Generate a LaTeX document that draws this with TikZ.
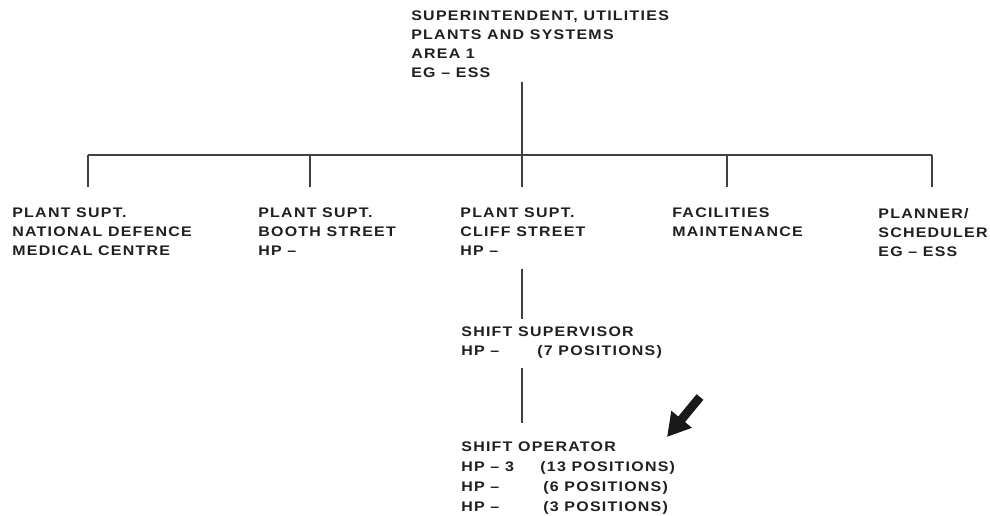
\documentclass[tikz,border=0pt]{standalone}
\usepackage{fontspec}
\setmainfont{Liberation Sans}[FakeStretch=1.15,LetterSpace=9]
\usetikzlibrary{positioning,arrows.meta}

\newcommand{\hpcol}[2][1.52cm]{\makebox[#1][l]{#2}}

\begin{document}
\begin{tikzpicture}[x=0.02cm,y=-0.02cm,
  lbl/.style={anchor=north west,align=left,inner sep=0pt,text=black!88,
    font=\fontsize{7.9}{10.8}\selectfont\bfseries,
    execute at begin node={\rule{0pt}{8pt}}},
  link/.style={line width=1pt,draw=black!75}]
\useasboundingbox (0,0) rectangle (990,516);

\def\xmid{522};
\def\ybar{155};
\def\ytxt{207.9};

% top post
\node[lbl] (sup) at (411,10.6) {SUPERINTENDENT, UTILITIES\\PLANTS AND SYSTEMS\\AREA 1\\EG -- ESS};

% second row
\node[lbl] (nd) at (12,\ytxt) {PLANT SUPT.\\NATIONAL DEFENCE\\MEDICAL CENTRE};
\node[lbl] (bs) at (258,\ytxt) {PLANT SUPT.\\BOOTH STREET\\HP --};
\node[lbl] (cs) at (460,\ytxt) {PLANT SUPT.\\CLIFF STREET\\HP --};
\node[lbl] (fm) at (672,\ytxt) {FACILITIES\\MAINTENANCE};
\node[lbl] (ps) at (878,\ytxt) {PLANNER/\\SCHEDULER\\EG -- ESS};

% shift staff
\node[lbl] (sv) at (461,326.5) {SHIFT SUPERVISOR\\\hpcol{HP --}(7 POSITIONS)};
\node[lbl,font=\fontsize{7.9}{11.3}\selectfont\bfseries] (op) at (461,441.5)
  {SHIFT OPERATOR\\\hpcol[1.58cm]{HP -- 3}(13 POSITIONS)\\\hpcol[1.64cm]{HP --}(6 POSITIONS)\\\hpcol[1.64cm]{HP --}(3 POSITIONS)};

% bar
\coordinate (top) at (\xmid,\ybar);
\coordinate (b1) at (88,\ybar);
\coordinate (b2) at (310,\ybar);
\coordinate (b3) at (\xmid,\ybar);
\coordinate (b4) at (727,\ybar);
\coordinate (b5) at (932,\ybar);

\draw[link,shorten <=0.08cm] (sup.south -| top) -- (top);
\draw[link] (b1) -- (b5);
\foreach \b/\n in {b1/nd,b2/bs,b3/cs,b4/fm,b5/ps}
  \draw[link,shorten >=0.42cm] (\b) -- (\b |- \n.north);

\draw[link,shorten <=0.26cm,shorten >=0.15cm] (cs.south -| top) -- (sv.north -| top);
\draw[link,shorten <=0.18cm,shorten >=0.37cm] (sv.south -| top) -- (op.north -| top);

% pointer
\coordinate (tail) at (700,397);
\coordinate (tip) at (667,437);
\draw[black!90,line width=5pt,-{Triangle[length=0.46cm,width=0.5cm]}] (tail) -- (tip);
\end{tikzpicture}
\end{document}
